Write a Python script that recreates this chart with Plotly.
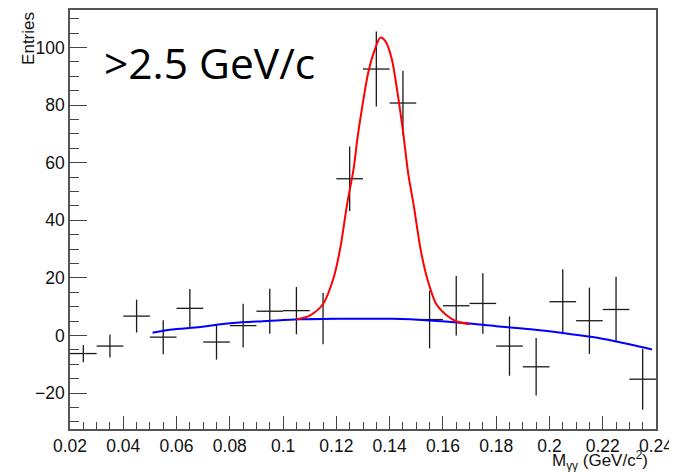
import plotly.graph_objects as go

# ---- data ----
bin_centers = [0.025, 0.035, 0.045, 0.055, 0.065, 0.075, 0.085, 0.095, 0.105, 0.115, 0.125,
               0.135, 0.145, 0.155, 0.165, 0.175, 0.185, 0.195, 0.205, 0.215, 0.225, 0.235]
entries = [-6.3, -3.7, 6.7, -0.6, 9.4, -2.3, 3.4, 8.4, 8.6, 5.8, 54.4,
           92.5, 80.7, 5.5, 10.3, 11.1, -3.7, -10.9, 11.7, 5.1, 9.0, -15.2]
entry_errors = [3.0, 4.0, 5.7, 5.9, 6.7, 6.1, 7.6, 7.8, 8.2, 8.9, 11.2,
                13.0, 11.2, 10.0, 10.3, 10.5, 10.3, 10.0, 11.3, 11.5, 11.4, 10.6]
bin_half_width = [0.005] * len(bin_centers)

# total fit (signal + background), red
fit_x = [0.105, 0.110, 0.115, 0.119, 0.1215, 0.124, 0.1265, 0.128, 0.130, 0.132, 0.1345,
         0.1365, 0.1385, 0.1408, 0.143, 0.145, 0.147, 0.149, 0.1515, 0.154, 0.1575, 0.1615,
         0.165, 0.170]
fit_y = [5.6, 6.9, 10.9, 20.1, 30.5, 45.4, 58.0, 69.0, 81.0, 91.4, 99.4,
         103.4, 102.0, 96.0, 84.0, 71.0, 56.0, 45.4, 30.5, 20.1, 10.9, 6.9,
         4.9, 3.9]

# background fit, blue
bkg_x = [0.051, 0.0575, 0.069, 0.075, 0.081, 0.094, 0.106, 0.118, 0.130, 0.141, 0.155,
         0.168, 0.180, 0.193, 0.205, 0.218, 0.230, 0.2385]
bkg_y = [0.9, 2.0, 2.9, 3.7, 4.3, 5.0, 5.6, 5.75, 5.8, 5.75, 5.2,
         4.3, 3.2, 2.1, 0.8, -0.8, -3.1, -4.9]

x_tick_vals = [0.02, 0.04, 0.06, 0.08, 0.1, 0.12, 0.14, 0.16, 0.18, 0.2, 0.22, 0.24]
x_tick_text = ["0.02", "0.04", "0.06", "0.08", "0.1", "0.12", "0.14", "0.16", "0.18", "0.2", "0.22", "0.24"]
y_tick_vals = [-20, 0, 20, 40, 60, 80, 100]

fig = go.Figure()

fig.add_trace(go.Scatter(
    x=bin_centers, y=entries, mode="markers",
    marker=dict(size=1, color="rgba(0,0,0,0)"),
    error_y=dict(type="data", array=entry_errors, color="#1a1a1a", thickness=1.3, width=0),
    error_x=dict(type="data", array=bin_half_width, color="#1a1a1a", thickness=1.3, width=0),
    showlegend=False, hoverinfo="skip",
))

fig.add_trace(go.Scatter(
    x=bkg_x, y=bkg_y, mode="lines", line=dict(color="#0000ff", width=2, shape="spline"),
    showlegend=False,
))

fig.add_trace(go.Scatter(
    x=fit_x, y=fit_y, mode="lines", line=dict(color="#ff0000", width=2, shape="spline", smoothing=0.8),
    showlegend=False,
))

axis_font = dict(family="Liberation Sans, Arial, sans-serif", size=17.5, color="#111111")

fig.update_layout(
    width=669, height=464,
    margin=dict(l=62, r=21, t=0, b=43),
    paper_bgcolor="white", plot_bgcolor="white",
    xaxis=dict(
        range=[0.02, 0.24], showgrid=False, zeroline=False,
        showline=True, linecolor="#555555", linewidth=1.5, mirror=True,
        ticks="inside", ticklen=13, tickwidth=1.2, tickcolor="#444444",
        tickvals=x_tick_vals, ticktext=x_tick_text, tickfont=axis_font,
        minor=dict(dtick=0.005, tick0=0.02, ticks="inside", ticklen=7, tickwidth=1.2, tickcolor="#444444"),
    ),
    yaxis=dict(
        range=[-32.5, 113], showgrid=False, zeroline=False,
        showline=True, linecolor="#555555", linewidth=1.5, mirror=True,
        ticks="inside", ticklen=17, tickwidth=1.2, tickcolor="#444444",
        tickvals=y_tick_vals, tickfont=axis_font,
        minor=dict(dtick=5, tick0=0, ticks="inside", ticklen=9, tickwidth=1.2, tickcolor="#444444"),
    ),
    annotations=[
        dict(text="M<sub>γγ</sub> (GeV/c<sup>2</sup>)", xref="paper", yref="paper",
             x=0.99, y=-0.04, xanchor="right", yanchor="top", showarrow=False,
             font=dict(family="Liberation Sans, Arial, sans-serif", size=17, color="#111111")),
        dict(text="Entries", xref="paper", yref="paper", x=-0.071, y=1.0,
             xanchor="center", yanchor="top", textangle=-90, showarrow=False,
             font=dict(family="Liberation Sans, Arial, sans-serif", size=17, color="#111111")),
        dict(text="&gt;2.5 GeV/c", xref="paper", yref="paper", x=0.055, y=0.948,
             xanchor="left", yanchor="top", showarrow=False,
             font=dict(family="Open Sans, sans-serif", size=42.5, color="#000000")),
    ],
)

fig.write_html("out.html")
